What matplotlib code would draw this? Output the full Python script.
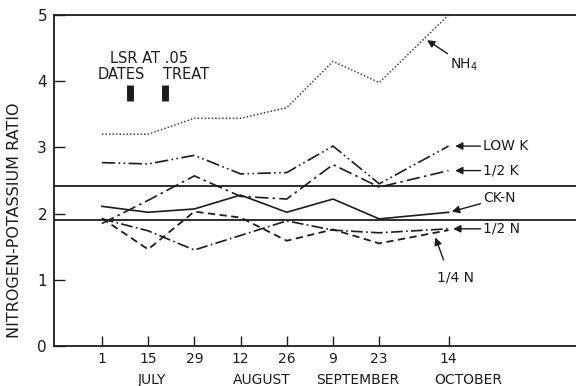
import matplotlib
matplotlib.use("Agg")
import matplotlib.pyplot as plt

# ---- data ----
days = [0, 14, 28, 42, 56, 70, 84, 105]
tick_labels = ["1", "15", "29", "12", "26", "9", "23", "14"]
months = ["JULY", "AUGUST", "SEPTEMBER", "OCTOBER"]
month_pos = [15, 48.5, 77.5, 111]

nh4 = [3.20, 3.20, 3.44, 3.44, 3.60, 4.30, 3.98, 5.00]
low_k = [2.77, 2.75, 2.88, 2.60, 2.62, 3.02, 2.45, 3.02]
half_k = [1.85, 2.20, 2.57, 2.26, 2.22, 2.74, 2.40, 2.65]
ck_n = [2.11, 2.02, 2.07, 2.28, 2.02, 2.22, 1.92, 2.02]
half_n = [1.92, 1.74, 1.45, 1.67, 1.89, 1.75, 1.71, 1.77]
quarter_n = [1.93, 1.46, 2.03, 1.94, 1.59, 1.76, 1.55, 1.75]

ref_lines = [2.41, 1.91]
lsr_dates = (8.5, 3.70, 3.94)
lsr_treat = (19.1, 3.70, 3.94)

INK = "#1c1c1c"
plt.rcParams['font.family'] = ['DejaVu Sans']

fig = plt.figure(figsize=(5.76, 3.86), dpi=100)
ax = fig.add_axes([54/576, 1-346/386, 1-54/576, (346-15)/386])
ax.set_xlim(-14.5, 143.6)
ax.set_ylim(0, 5)

ax.plot(days, nh4, color="#444444", lw=1.1, linestyle=(0, (1, 1.3)))
ax.plot(days, low_k, color=INK, lw=1.2, linestyle=(0, (8, 2, 1, 2, 1, 2)))
ax.plot(days, half_k, color=INK, lw=1.2, linestyle=(0, (8, 2.5, 1.5, 2.5)))
ax.plot(days, ck_n, color=INK, lw=1.2, linestyle='-')
ax.plot(days, half_n, color=INK, lw=1.2, linestyle=(0, (7, 2, 1, 2)))
ax.plot(days, quarter_n, color=INK, lw=1.3, linestyle=(0, (4, 2.5)))

for r in ref_lines:
    ax.axhline(r, color=INK, lw=1.3)

for x, y0, y1 in (lsr_dates, lsr_treat):
    ax.plot([x, x], [y0, y1], color=INK, lw=5, solid_capstyle='butt')

fs = 10
ax.text(14.2, 4.35, "LSR AT .05", ha='center', va='center', fontsize=10.5, color=INK)
ax.text(5.8, 4.10, "DATES", ha='center', va='center', fontsize=10.5, color=INK)
ax.text(25.5, 4.10, "TREAT", ha='center', va='center', fontsize=10.5, color=INK)

arrow = dict(arrowstyle='-|>', lw=1.0, color=INK, mutation_scale=11, shrinkA=0, shrinkB=0)
ax.annotate("NH$_4$", xy=(98.5, 4.62), xytext=(105.5, 4.25), fontsize=fs, color=INK,
            ha='left', va='center', arrowprops=arrow)
ax.annotate("LOW K", xy=(107, 3.02), xytext=(115.5, 3.02), fontsize=fs, color=INK,
            ha='left', va='center', arrowprops=arrow)
ax.annotate("1/2 K", xy=(107, 2.65), xytext=(115.5, 2.65), fontsize=fs, color=INK,
            ha='left', va='center', arrowprops=arrow)
ax.annotate("CK-N", xy=(106, 2.03), xytext=(115.5, 2.23), fontsize=fs, color=INK,
            ha='left', va='center', arrowprops=arrow)
ax.annotate("1/2 N", xy=(106.4, 1.77), xytext=(115.5, 1.77), fontsize=fs, color=INK,
            ha='left', va='center', arrowprops=arrow)
ax.annotate("", xy=(101, 1.64), xytext=(103.5, 1.30), arrowprops=arrow)
ax.text(107, 1.03, "1/4 N", ha='center', va='center', fontsize=fs, color=INK)

ax.set_xticks(days)
ax.set_xticklabels(tick_labels, fontsize=fs, color=INK)
ax.set_yticks([0, 1, 2, 3, 4, 5])
ax.set_yticklabels(["0", "1", "2", "3", "4", "5"], fontsize=11, color=INK)
ax.tick_params(axis='x', direction='in', length=7, width=1.0, pad=4, colors=INK)
ax.tick_params(axis='y', direction='in', length=8, width=1.0, pad=5, colors=INK)

for m, p in zip(months, month_pos):
    ax.text(p, -0.52, m, ha='center', va='center', fontsize=fs, color=INK)

fig.text(15/576, 1-220/386, "NITROGEN-POTASSIUM RATIO", rotation=90,
         ha='center', va='center', fontsize=11.5, color=INK)

ax.spines['right'].set_visible(False)
for s in ('left', 'bottom', 'top'):
    ax.spines[s].set_color(INK)
    ax.spines[s].set_linewidth(1.3)

fig.savefig("out.png", dpi=100)
